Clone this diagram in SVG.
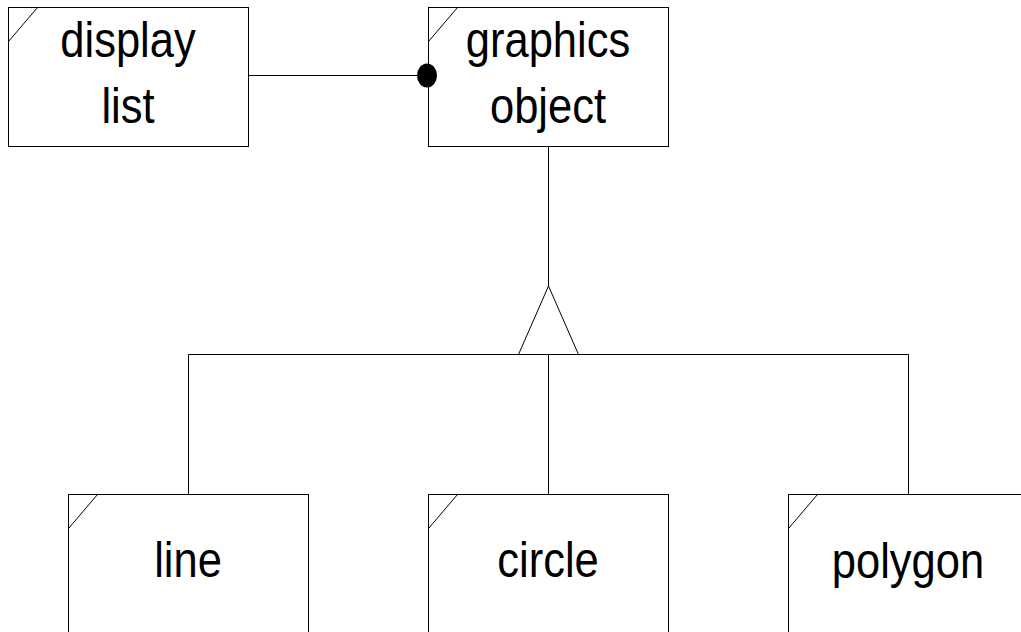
<svg xmlns="http://www.w3.org/2000/svg" width="1021" height="632" viewBox="0 0 1021 632">
<style>
.box{fill:#fff;stroke:#000;stroke-width:1}
.ln{fill:none;stroke:#000;stroke-width:1}
.t{font-family:"Liberation Sans",Arial,sans-serif;font-size:50px;fill:#000;text-anchor:middle}
</style>
<rect width="1021" height="632" fill="#fff"/>
<g id="connectors">
<line class="ln" x1="248.5" y1="75.5" x2="420" y2="75.5"/>
<line class="ln" x1="548.5" y1="146.5" x2="548.5" y2="286"/>
<polygon class="ln" points="548.5,286 518.5,354.5 578.5,354.5"/>
<line class="ln" x1="188.5" y1="354.5" x2="908.5" y2="354.5"/>
<line class="ln" x1="188.5" y1="354.5" x2="188.5" y2="494.5"/>
<line class="ln" x1="548.5" y1="354.5" x2="548.5" y2="494.5"/>
<line class="ln" x1="908.5" y1="354.5" x2="908.5" y2="494.5"/>
</g>
<g id="display-list">
<rect class="box" x="8.5" y="7.5" width="240" height="139"/>
<line class="ln" x1="8.5" y1="41.5" x2="37.5" y2="7.5"/>
<text class="t" transform="translate(128,57) scale(0.87,1)">display</text>
<text class="t" transform="translate(128,123) scale(0.87,1)">list</text>
</g>
<g id="graphics-object">
<rect class="box" x="428.5" y="7.5" width="240" height="139"/>
<line class="ln" x1="428.5" y1="41.5" x2="457.5" y2="7.5"/>
<text class="t" transform="translate(548,57) scale(0.87,1)">graphics</text>
<text class="t" transform="translate(548,123) scale(0.87,1)">object</text>
<ellipse cx="427" cy="75.5" rx="10" ry="12" fill="#000"/>
</g>
<g id="line">
<rect class="box" x="68.5" y="494.5" width="240" height="150"/>
<line class="ln" x1="68.5" y1="528.5" x2="97.5" y2="494.5"/>
<text class="t" transform="translate(188,577) scale(0.87,1)">line</text>
</g>
<g id="circle">
<rect class="box" x="428.5" y="494.5" width="240" height="150"/>
<line class="ln" x1="428.5" y1="528.5" x2="457.5" y2="494.5"/>
<text class="t" transform="translate(548,577) scale(0.87,1)">circle</text>
</g>
<g id="polygon">
<rect class="box" x="788.5" y="494.5" width="240" height="150"/>
<line class="ln" x1="788.5" y1="528.5" x2="817.5" y2="494.5"/>
<text class="t" transform="translate(908,578) scale(0.87,1)">polygon</text>
</g>
</svg>
